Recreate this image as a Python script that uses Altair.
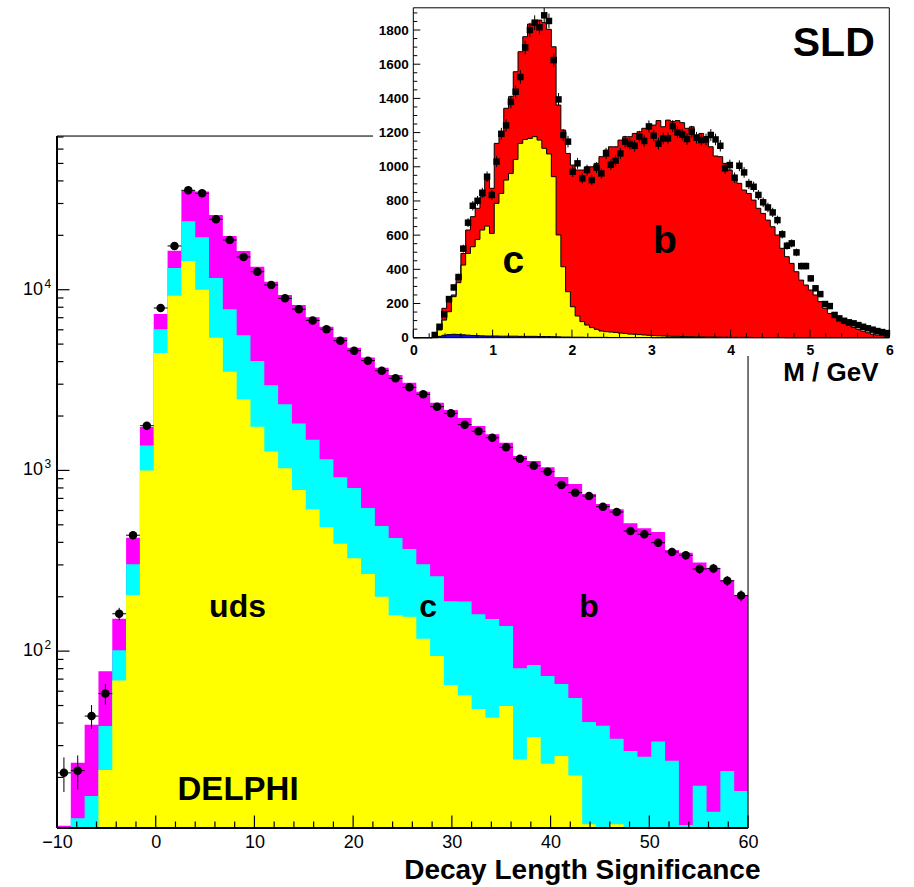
import math
import altair as alt
import pandas as pd

FONT = "Liberation Sans"

# ---------------- DELPHI main histogram (log y) ----------------
MAIN_X0 = -10.0
MAIN_X1 = 60.0
MAIN_BW = 1.4
MAIN_YMIN = 10.5
MAIN_YMAX = 70900
MAIN_UDS = [4, 6, 8, 22, 68.7, 204, 1000, 4470, 9250, 14400,
            10000, 5415, 3512, 2475, 1742, 1271, 1028, 778, 609, 487,
            393, 327, 267, 200, 158, 155, 117, 94, 65, 57,
            47.8, 42.8, 49.7, 25.1, 33.5, 23.8, 26.3, 20.5, 11, 8,
            11, 5, 5, 5, 5, 5, 5, 5, 5, 5]
MAIN_UDS_C = [8, 11.9, 15.8, 38.5, 101, 303, 1374, 6040, 13200, 23900,
              19500, 11600, 7800, 5605, 4030, 2958, 2325, 1818, 1476, 1152,
              918, 800, 620, 492, 423, 367, 303, 260, 189, 188,
              160, 150.5, 137.7, 80.3, 83.8, 72.8, 65.8, 55, 40.5, 38.6,
              32.7, 28, 26, 31.6, 24.7, 10.9, 18, 12.9, 21.7, 16.8]
MAIN_TOTAL = [10.8, 24.1, 39.1, 77.5, 151, 424, 1740, 7350, 16420, 35300,
              35000, 25880, 19820, 16380, 13400, 11070, 9350, 8230, 7030, 6240,
              5450, 4780, 4210, 3700, 3373, 3059, 2727, 2370, 2159, 1950,
              1761, 1583, 1424, 1201, 1127, 1040, 919, 841, 740, 652,
              609, 510, 478, 456, 363, 350, 309, 287, 247, 202]
MAIN_DATA = [21.2, 21.8, 43.7, 58.2, 161, 438, 1768, 7920, 17460, 35470,
             34140, 24540, 18840, 15180, 12580, 10620, 8960, 7800, 6760, 6040,
             5220, 4600, 4050, 3565, 3233, 2882, 2636, 2253, 2069, 1791,
             1646, 1517, 1342, 1161, 1062, 984, 830, 753, 722, 630,
             589, 462, 443, 398, 354, 339, 285, 287, 245, 203]
MAIN_X_MAJOR = [-10, 0, 10, 20, 30, 40, 50, 60]
MAIN_X_MINOR = [-8, -6, -4, -2, 2, 4, 6, 8, 12, 14, 16, 18, 22, 24, 26, 28,
                32, 34, 36, 38, 42, 44, 46, 48, 52, 54, 56, 58]
MAIN_Y_MAJOR = [100, 1000, 10000]
MAIN_Y_EXP = ["2", "3", "4"]
MAIN_Y_MINOR = [20, 30, 40, 50, 60, 70, 80, 90,
                200, 300, 400, 500, 600, 700, 800, 900,
                2000, 3000, 4000, 5000, 6000, 7000, 8000, 9000,
                20000, 30000, 40000, 50000, 60000, 70000]
MAIN_BIG_TEXT = ["DELPHI"]
MAIN_BIG_X = [8.34]
MAIN_BIG_Y = [14.96]
MAIN_TEXT = ["uds", "c", "b"]
MAIN_TEXT_X = [8.29, 27.6, 43.9]
MAIN_TEXT_Y = [154.9, 153.7, 153.7]

# ---------------- SLD inset (linear y) ----------------
INSET_BW = 0.06
INSET_XMAX = 6.0
INSET_YMAX = 1930
INSET_TOTAL = [0, 0, 0, 0, 6, 55, 172, 210, 250, 347,
               493, 630, 708, 757, 825, 922, 874, 1137, 1205, 1342,
               1410, 1556, 1673, 1761, 1835, 1849, 1858, 1843, 1804, 1702,
               1361, 1215, 1078, 1010, 981, 981, 1000, 1000, 1020, 1059,
               1098, 1117, 1117, 1156, 1176, 1176, 1195, 1205, 1225, 1234,
               1244, 1270, 1234, 1273, 1264, 1270, 1258, 1225, 1234, 1186,
               1195, 1176, 1117, 1063, 1059, 1020, 981, 932, 903, 864,
               844, 805, 757, 727, 688, 649, 601, 523, 474, 435,
               386, 337, 308, 279, 250, 211, 172, 142, 123, 103,
               88, 74, 60, 49, 39, 29, 21, 16, 12, 8]
INSET_C = [0, 0, 0, 0, 5, 45, 103, 152, 240, 322,
           425, 493, 532, 575, 630, 653, 610, 786, 844, 922,
           961, 1043, 1137, 1160, 1166, 1176, 1156, 1108, 1075, 942,
           601, 415, 269, 181, 127, 94, 74, 59, 49, 39,
           35, 33, 31, 27, 25, 21, 20, 18, 16, 14,
           12, 11, 10, 9, 8, 8, 7, 6, 6, 5,
           5, 4, 4, 3, 3, 3, 2, 2, 2, 2,
           2, 1, 1, 1, 1, 1, 1, 1, 0, 0,
           0, 0, 0, 0, 0, 0, 0, 0, 0, 0,
           0, 0, 0, 0, 0, 0, 0, 0, 0, 0]
INSET_UDS = [0, 0, 0, 0, 2, 8, 14, 18, 20, 19,
             17, 15, 13, 12, 11, 10, 10, 10, 9, 9,
             9, 9, 8, 8, 8, 8, 7, 7, 7, 6,
             5, 4, 4, 3, 3, 3, 2, 2, 2, 2,
             2, 1, 1, 1, 1, 1, 1, 1, 1, 1,
             0, 0, 0, 0, 0, 0, 0, 0, 0, 0,
             0, 0, 0, 0, 0, 0, 0, 0, 0, 0,
             0, 0, 0, 0, 0, 0, 0, 0, 0, 0,
             0, 0, 0, 0, 0, 0, 0, 0, 0, 0,
             0, 0, 0, 0, 0, 0, 0, 0, 0, 0]
INSET_DATA_FIRST_BIN = 4
INSET_DATA = [16, 64, 137, 226, 294, 355, 521, 673, 772, 801,
              848, 942, 835, 1030, 1193, 1242, 1379, 1439, 1525, 1698,
              1800, 1843, 1816, 1886, 1853, 1624, 1394, 1186, 1147, 971,
              1020, 932, 981, 922, 995, 961, 1078, 1012, 1035, 1078,
              1147, 1133, 1123, 1176, 1151, 1236, 1182, 1135, 1166, 1166,
              1238, 1201, 1188, 1162, 1205, 1170, 1156, 1160, 1186, 1160,
              1123, 991, 1010, 936, 1006, 967, 899, 883, 835, 792,
              762, 733, 688, 605, 538, 552, 499, 419, 419, 347,
              289, 255, 197, 185, 133, 113, 99, 90, 84, 74,
              64, 55, 47, 39, 33, 27]
INSET_X_MAJOR = [0, 1, 2, 3, 4, 5, 6]
INSET_X_MINOR = [0.2, 0.4, 0.6, 0.8, 1.2, 1.4, 1.6, 1.8, 2.2, 2.4, 2.6, 2.8,
                 3.2, 3.4, 3.6, 3.8, 4.2, 4.4, 4.6, 4.8, 5.2, 5.4, 5.6, 5.8]
INSET_Y_MAJOR = [0, 200, 400, 600, 800, 1000, 1200, 1400, 1600, 1800]
INSET_Y_MINOR = [50, 100, 150, 250, 300, 350, 450, 500, 550, 650, 700, 750,
                 850, 900, 950, 1050, 1100, 1150, 1250, 1300, 1350, 1450, 1500,
                 1550, 1650, 1700, 1750, 1850, 1900]
INSET_TEXT = ["c", "b"]
INSET_TEXT_X = [1.26, 3.17]
INSET_TEXT_Y = [380, 494]
INSET_TITLE = ["SLD"]
INSET_TITLE_X = [5.30]
INSET_TITLE_Y = [1648]

# ---------------- layout (pixels) ----------------
W, H = 691, 692
PAD = {"left": 57, "top": 136, "right": 166, "bottom": 59}
INSET_X_RANGE = [356.3, 832.3]
INSET_Y_RANGE = [201.7, -128.2]

# ---------------- tables ----------------
nb = len(MAIN_TOTAL)
main_hist = pd.DataFrame({
    "x": [MAIN_X0 + MAIN_BW * k for k in range(nb + 1)],
    "total": MAIN_TOTAL + [MAIN_TOTAL[-1]],
    "udsc": MAIN_UDS_C + [MAIN_UDS_C[-1]],
    "uds": MAIN_UDS + [MAIN_UDS[-1]],
})
main_hist["floor"] = 1.0
main_pts = pd.DataFrame({
    "xc": [MAIN_X0 + MAIN_BW * (k + 0.5) for k in range(nb)],
    "n": MAIN_DATA,
})
main_pts["lo"] = main_pts["n"] - main_pts["n"].apply(math.sqrt)
main_pts["hi"] = main_pts["n"] + main_pts["n"].apply(math.sqrt)
main_pts["xl"] = main_pts["xc"] - MAIN_BW / 2
main_pts["xh"] = main_pts["xc"] + MAIN_BW / 2
main_box = pd.DataFrame({"x0": [MAIN_X0], "x1": [MAIN_X1], "y0": [MAIN_YMIN], "y1": [MAIN_YMAX]})

ni = len(INSET_TOTAL)
inset_hist = pd.DataFrame({
    "x": [INSET_BW * k for k in range(ni + 1)],
    "total": INSET_TOTAL + [INSET_TOTAL[-1]],
    "c": INSET_C + [INSET_C[-1]],
    "uds": INSET_UDS + [INSET_UDS[-1]],
})
inset_hist["floor"] = 0.0
inset_pts = pd.DataFrame({
    "xc": [INSET_BW * (k + INSET_DATA_FIRST_BIN + 0.5) for k in range(len(INSET_DATA))],
    "n": INSET_DATA,
})
inset_pts["lo"] = inset_pts["n"] - inset_pts["n"].apply(math.sqrt)
inset_pts["hi"] = inset_pts["n"] + inset_pts["n"].apply(math.sqrt)
inset_box = pd.DataFrame({"x0": [0.0], "x1": [INSET_XMAX], "y0": [0.0], "y1": [INSET_YMAX]})

one = pd.DataFrame({"a": [0]})

# ---------------- scales ----------------
MX = alt.Scale(domain=[MAIN_X0, MAIN_X1], nice=False, zero=False)
MY = alt.Scale(type="log", domain=[MAIN_YMIN, MAIN_YMAX], nice=False)
IX = alt.Scale(domain=[0, INSET_XMAX], range=INSET_X_RANGE, nice=False, zero=False)
IY = alt.Scale(domain=[0, INSET_YMAX], range=INSET_Y_RANGE, nice=False, zero=False)

main_x_axis = alt.Axis(values=MAIN_X_MAJOR, domain=False, ticks=False, grid=False,
                       labelFont=FONT, labelFontSize=18, labelPadding=5, labelFlush=False,
                       labelColor="black", title="Decay Length Significance",
                       titleFont=FONT, titleFontSize=28, titleFontWeight="bold",
                       titleColor="black", titleAlign="right", titleX=703, titleY=50,
                       titleBaseline="alphabetic", zindex=1)


def mx(field, axis=None):
    return alt.X(field, scale=MX, axis=axis)


def my(field):
    return alt.Y(field, scale=MY, axis=None)


def main_area(field, color, with_axis=False):
    return alt.Chart(main_hist).mark_area(interpolate="step-after", color=color,
                                          clip=True, opacity=1).encode(
        x=mx("x:Q", main_x_axis if with_axis else None),
        y=my(f"{field}:Q"),
        y2="floor:Q",
    )


layers = []
layers.append(main_area("total", "#ff00ff", with_axis=True))
layers.append(main_area("udsc", "#00ffff"))
layers.append(main_area("uds", "#ffff00"))

layers.append(alt.Chart(main_box).mark_rect(fillOpacity=0, stroke="black", strokeWidth=1).encode(
    x=mx("x0:Q"), x2="x1:Q", y=my("y0:Q"), y2="y1:Q"))
layers.append(alt.Chart(one).mark_rule(color="black", strokeWidth=2).encode(
    x=alt.value(0), y=alt.value(0), y2=alt.value(H)))
layers.append(alt.Chart(one).mark_rule(color="black", strokeWidth=2).encode(
    x=alt.value(0), x2=alt.value(W), y=alt.value(H)))

layers.append(alt.Chart(pd.DataFrame({"v": MAIN_X_MAJOR})).mark_rule(color="black", strokeWidth=1.2).encode(
    x=mx("v:Q"), y=alt.value(H), y2=alt.value(H - 12.5)))
layers.append(alt.Chart(pd.DataFrame({"v": MAIN_X_MINOR})).mark_rule(color="black", strokeWidth=1.2).encode(
    x=mx("v:Q"), y=alt.value(H), y2=alt.value(H - 6.5)))
layers.append(alt.Chart(pd.DataFrame({"v": MAIN_Y_MAJOR})).mark_rule(color="black", strokeWidth=1.2).encode(
    y=my("v:Q"), x=alt.value(0), x2=alt.value(12.5)))
layers.append(alt.Chart(pd.DataFrame({"v": MAIN_Y_MINOR})).mark_rule(color="black", strokeWidth=1.2).encode(
    y=my("v:Q"), x=alt.value(0), x2=alt.value(6.5)))

ylab = pd.DataFrame({"v": MAIN_Y_MAJOR, "e": MAIN_Y_EXP})
layers.append(alt.Chart(ylab).mark_text(text="10", align="right", baseline="middle", font=FONT,
                                       fontSize=18, color="black").encode(
    y=my("v:Q"), x=alt.value(-14)))
layers.append(alt.Chart(ylab).mark_text(align="left", baseline="middle", font=FONT,
                                       fontSize=12, dy=-6, color="black").encode(
    y=my("v:Q"), x=alt.value(-12.5), text="e:N"))

layers.append(alt.Chart(main_pts).mark_rule(color="black", strokeWidth=1).encode(
    x=mx("xc:Q"), y=my("lo:Q"), y2="hi:Q"))
layers.append(alt.Chart(main_pts).mark_rule(color="black", strokeWidth=1).encode(
    x=mx("xl:Q"), x2="xh:Q", y=my("n:Q")))
layers.append(alt.Chart(main_pts).mark_point(shape="circle", filled=True, size=72, color="black",
                                            opacity=1).encode(
    x=mx("xc:Q"), y=my("n:Q")))

layers.append(alt.Chart(pd.DataFrame({"t": MAIN_TEXT, "x": MAIN_TEXT_X, "y": MAIN_TEXT_Y})).mark_text(
    font=FONT, fontWeight="bold", fontSize=32, align="center", baseline="alphabetic",
    color="black").encode(x=mx("x:Q"), y=my("y:Q"), text="t:N"))
layers.append(alt.Chart(pd.DataFrame({"t": MAIN_BIG_TEXT, "x": MAIN_BIG_X, "y": MAIN_BIG_Y})).mark_text(
    font=FONT, fontWeight="bold", fontSize=33, align="center", baseline="alphabetic",
    color="black").encode(x=mx("x:Q"), y=my("y:Q"), text="t:N"))

# ---------------- inset ----------------
layers.append(alt.Chart(one).mark_rect(color="white", opacity=1).encode(
    x=alt.value(316), x2=alt.value(843), y=alt.value(-136), y2=alt.value(220)))

inset_x_axis = alt.Axis(orient="bottom", offset=INSET_Y_RANGE[0] - H, values=INSET_X_MAJOR,
                        domain=False, ticks=False, grid=False, labelFont=FONT, labelFontSize=14,
                        labelFontWeight="bold", labelPadding=6, labelFlush=False, format="d",
                        labelColor="black", title="M / GeV", titleFont=FONT, titleFontSize=26,
                        titleFontWeight="bold", titleColor="black", titleAlign="right",
                        titleX=821, titleY=43, titleBaseline="alphabetic", zindex=1)
inset_y_axis = alt.Axis(orient="left", offset=-INSET_X_RANGE[0], values=INSET_Y_MAJOR,
                        domain=False, ticks=False, grid=False, labelFont=FONT, labelFontSize=13.5,
                        labelFontWeight="bold", labelPadding=5, labelColor="black", format="d",
                        title="", zindex=1)


def ix(field, axis=None):
    return alt.X(field, scale=IX, axis=axis)


def iy(field, axis=None):
    return alt.Y(field, scale=IY, axis=axis)


def inset_area(field, color, with_axis=False):
    return alt.Chart(inset_hist).mark_area(interpolate="step-after", color=color,
                                           opacity=1).encode(
        x=ix("x:Q", inset_x_axis if with_axis else None),
        y=iy(f"{field}:Q", inset_y_axis if with_axis else None),
        y2="floor:Q",
    )


def inset_outline(field):
    return alt.Chart(inset_hist).mark_line(interpolate="step-after", color="black",
                                           strokeWidth=1).encode(
        x=ix("x:Q"), y=iy(f"{field}:Q"))


layers.append(inset_area("total", "#ff0000", with_axis=True))
layers.append(inset_area("c", "#ffff00"))
layers.append(inset_area("uds", "#1010e0"))
layers.append(inset_outline("total"))
layers.append(inset_outline("c"))
layers.append(inset_outline("uds"))

layers.append(alt.Chart(inset_box).mark_rect(fillOpacity=0, stroke="black", strokeWidth=1).encode(
    x=ix("x0:Q"), x2="x1:Q", y=iy("y0:Q"), y2="y1:Q"))

IX0 = INSET_X_RANGE[0]
IY0 = INSET_Y_RANGE[0]
layers.append(alt.Chart(pd.DataFrame({"v": INSET_X_MAJOR})).mark_rule(color="black").encode(
    x=ix("v:Q"), y=alt.value(IY0), y2=alt.value(IY0 - 8)))
layers.append(alt.Chart(pd.DataFrame({"v": INSET_X_MINOR})).mark_rule(color="black").encode(
    x=ix("v:Q"), y=alt.value(IY0), y2=alt.value(IY0 - 4.5)))
layers.append(alt.Chart(pd.DataFrame({"v": INSET_Y_MAJOR})).mark_rule(color="black").encode(
    y=iy("v:Q"), x=alt.value(IX0), x2=alt.value(IX0 + 7)))
layers.append(alt.Chart(pd.DataFrame({"v": INSET_Y_MINOR})).mark_rule(color="black").encode(
    y=iy("v:Q"), x=alt.value(IX0), x2=alt.value(IX0 + 4)))

layers.append(alt.Chart(inset_pts).mark_rule(color="black", strokeWidth=1).encode(
    x=ix("xc:Q"), y=iy("lo:Q"), y2="hi:Q"))
layers.append(alt.Chart(inset_pts).mark_point(shape="square", filled=True, size=42, color="black",
                                             opacity=1).encode(
    x=ix("xc:Q"), y=iy("n:Q")))

layers.append(alt.Chart(pd.DataFrame({"t": INSET_TEXT, "x": INSET_TEXT_X, "y": INSET_TEXT_Y})).mark_text(
    font=FONT, fontWeight="bold", fontSize=39, align="center", baseline="alphabetic",
    color="black").encode(x=ix("x:Q"), y=iy("y:Q"), text="t:N"))
layers.append(alt.Chart(pd.DataFrame({"t": INSET_TITLE, "x": INSET_TITLE_X, "y": INSET_TITLE_Y})).mark_text(
    font=FONT, fontWeight="bold", fontSize=41, align="center", baseline="alphabetic",
    color="black").encode(x=ix("x:Q"), y=iy("y:Q"), text="t:N"))

chart = alt.layer(*layers).resolve_scale(
    x="independent", y="independent"
).resolve_axis(x="independent", y="independent").properties(
    width=W, height=H, padding=PAD, autosize=alt.AutoSizeParams(type="none"),
    background="white",
).configure_view(strokeWidth=0).configure(font=FONT)

chart.save("out.html", embed_options={"renderer": "svg", "actions": False})
